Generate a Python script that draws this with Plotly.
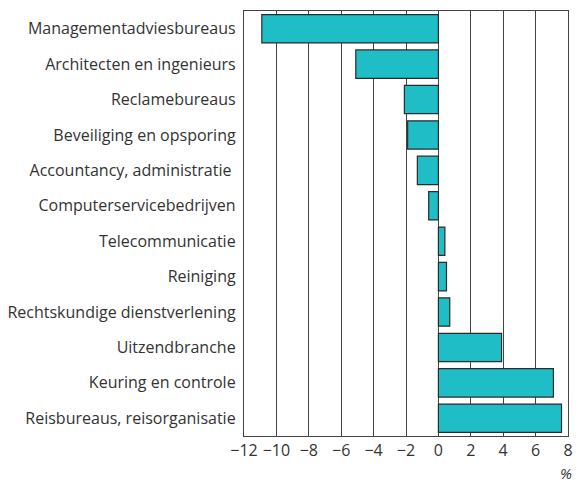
import plotly.graph_objects as go

# Branches of business services and their change in %
categories = [
    "Managementadviesbureaus",
    "Architecten en ingenieurs",
    "Reclamebureaus",
    "Beveiliging en opsporing",
    "Accountancy, administratie ",
    "Computerservicebedrijven",
    "Telecommunicatie",
    "Reiniging",
    "Rechtskundige dienstverlening",
    "Uitzendbranche",
    "Keuring en controle",
    "Reisbureaus, reisorganisatie",
]
values = [-10.9, -5.1, -2.1, -1.9, -1.3, -0.6, 0.4, 0.5, 0.7, 3.9, 7.1, 7.6]

tick_vals = [-12, -10, -8, -6, -4, -2, 0, 2, 4, 6, 8]
tick_text = ["\u221212", "\u221210", "\u22128", "\u22126", "\u22124", "\u22122", "0", "2", "4", "6", "8"]

font_family = "Open Sans, Noto Sans, sans-serif"
text_color = "#333333"

fig = go.Figure(
    go.Bar(
        x=values,
        y=categories,
        orientation="h",
        marker=dict(color="#1FBDC6", line=dict(color="#2b2b2b", width=1.2)),
        hoverinfo="skip",
    )
)

fig.update_layout(
    width=578,
    height=485,
    margin=dict(l=244, r=5, t=11, b=49),
    paper_bgcolor="white",
    plot_bgcolor="white",
    bargap=0.2,
    showlegend=False,
    font=dict(family=font_family, size=16, color=text_color),
    xaxis=dict(
        range=[-12, 8],
        tickvals=tick_vals,
        ticktext=tick_text,
        showgrid=True,
        gridcolor="#444444",
        gridwidth=1,
        zeroline=False,
        showline=True,
        linecolor="#444444",
        linewidth=1,
        mirror=True,
        ticks="",
        tickfont=dict(size=16, color=text_color),
        fixedrange=True,
    ),
    yaxis=dict(
        autorange="reversed",
        showgrid=False,
        zeroline=False,
        showline=True,
        linecolor="#444444",
        linewidth=1,
        mirror=True,
        ticks="",
        ticksuffix=" ",
        tickfont=dict(size=16, color=text_color),
        fixedrange=True,
    ),
)

fig.add_annotation(
    text="<i>%</i>",
    xref="x",
    yref="paper",
    x=7.85,
    y=0,
    yanchor="middle",
    yshift=-37,
    showarrow=False,
    font=dict(size=15, color=text_color, family=font_family),
)

fig.write_html("out.html")
